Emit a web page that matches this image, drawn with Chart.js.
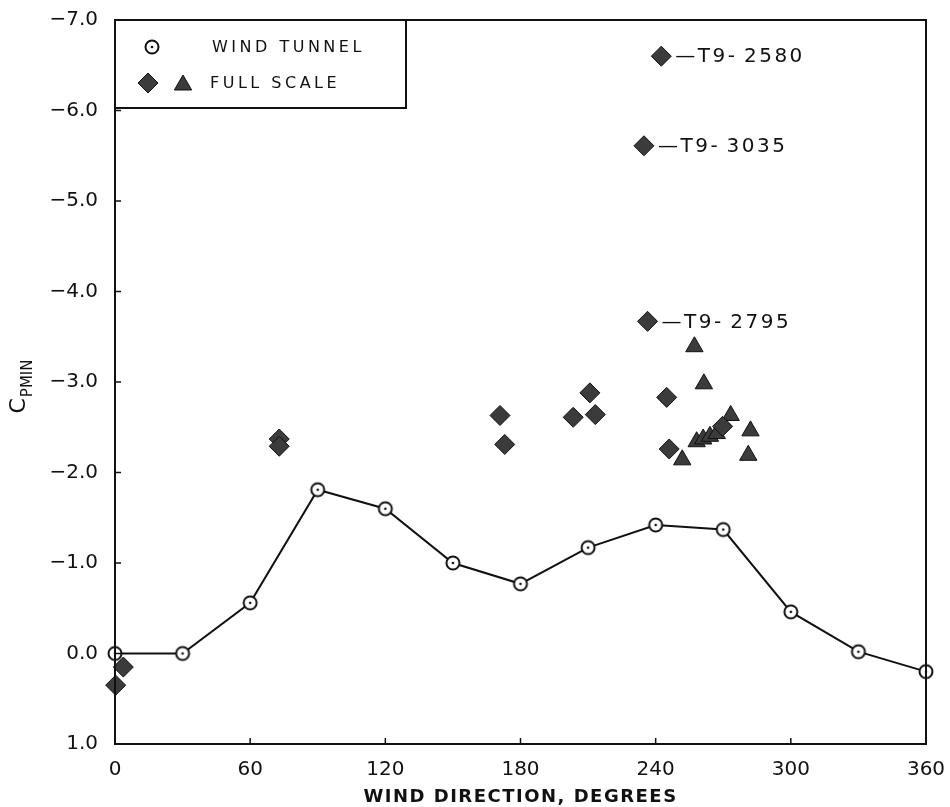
<!DOCTYPE html>
<html>
<head>
<meta charset="utf-8">
<script src="https://cdn.jsdelivr.net/npm/chart.js@4.4.1/dist/chart.umd.min.js"></script>
<style>
  html, body { margin: 0; padding: 0; background: #fff; }
</style>
</head>
<body>
<canvas id="cpChart" width="950" height="807"></canvas>
<script>
// wind tunnel: one reading every 30 degrees
const tunnelDir = [0, 30, 60, 90, 120, 150, 180, 210, 240, 270, 300, 330, 360];
const tunnelCp = [0.0, 0.0, -0.56, -1.81, -1.6, -1.0, -0.77, -1.17, -1.42, -1.37, -0.46, -0.02, 0.2];

// full scale runs, diamonds
const diamondDir = [0.3, 3.7, 72.9, 72.9, 170.9, 173, 203.4, 210.8, 213.2, 234.8, 236.4, 242.5, 244.9, 246, 269.7];
const diamondCp = [0.35, 0.15, -2.37, -2.29, -2.63, -2.31, -2.61, -2.88, -2.64, -5.61, -3.67, -6.6, -2.83, -2.26, -2.51];

// full scale runs, triangles
const triangleDir = [251.8, 257.2, 258.2, 261.1, 261.4, 264.1, 267.1, 273.3, 281.1, 282.1];
const triangleCp = [-2.14, -3.39, -2.34, -2.37, -2.98, -2.4, -2.43, -2.63, -2.19, -2.46];

// named runs, pointing at entries of the diamond arrays
const runNames = ['T9-2580', 'T9-3035', 'T9-2795'];
const runIndex = [11, 9, 10];

const xTicks = [0, 60, 120, 180, 240, 300, 360];
const yTicks = [-7, -6, -5, -4, -3, -2, -1, 0, 1];

const FONT = '"DejaVu Sans", sans-serif';
const INK = '#111';
const FILL = '#3b3b3b';

function toPoints(xs, ys) {
  return xs.map((x, i) => ({ x: x, y: ys[i] }));
}

// open circle with a dot in the middle
function makeRing() {
  const c = document.createElement('canvas');
  c.width = 18;
  c.height = 18;
  const g = c.getContext('2d');
  g.beginPath();
  g.arc(9, 9, 6.5, 0, Math.PI * 2);
  g.fillStyle = '#fff';
  g.fill();
  g.lineWidth = 2;
  g.strokeStyle = INK;
  g.stroke();
  g.beginPath();
  g.arc(9, 9, 1.3, 0, Math.PI * 2);
  g.fillStyle = INK;
  g.fill();
  return c;
}
const ring = makeRing();

function fmtCp(v) {
  return v < 0 ? '\u2212' + Math.abs(v).toFixed(1) : v.toFixed(1);
}

function diamond(ctx, x, y, r) {
  ctx.beginPath();
  ctx.moveTo(x, y - r);
  ctx.lineTo(x + r, y);
  ctx.lineTo(x, y + r);
  ctx.lineTo(x - r, y);
  ctx.closePath();
  ctx.fillStyle = FILL;
  ctx.fill();
  ctx.lineWidth = 1;
  ctx.strokeStyle = INK;
  ctx.stroke();
}

function triangle(ctx, x, y, r) {
  ctx.beginPath();
  ctx.moveTo(x, y - r);
  ctx.lineTo(x + r * 0.866, y + r / 2);
  ctx.lineTo(x - r * 0.866, y + r / 2);
  ctx.closePath();
  ctx.fillStyle = FILL;
  ctx.fill();
  ctx.lineWidth = 1;
  ctx.strokeStyle = INK;
  ctx.stroke();
}

const framePlugin = {
  id: 'frame',
  afterDraw(chart) {
    const ctx = chart.ctx;
    const a = chart.chartArea;
    const xs = chart.scales.x;
    const ys = chart.scales.y;
    ctx.save();

    // plot frame
    ctx.strokeStyle = INK;
    ctx.lineWidth = 2;
    ctx.strokeRect(a.left, a.top, a.right - a.left, a.bottom - a.top);

    // tick marks pointing inwards
    ctx.lineWidth = 1.5;
    ctx.beginPath();
    xTicks.forEach((t) => {
      const px = xs.getPixelForValue(t);
      ctx.moveTo(px, a.bottom);
      ctx.lineTo(px, a.bottom - 6);
    });
    yTicks.forEach((t) => {
      const py = ys.getPixelForValue(t);
      ctx.moveTo(a.left, py);
      ctx.lineTo(a.left + 6, py);
    });
    ctx.stroke();

    // legend box
    const lx = a.left, ly = a.top, lw = 291, lh = 88;
    ctx.lineWidth = 2;
    ctx.beginPath();
    ctx.moveTo(lx + lw, ly);
    ctx.lineTo(lx + lw, ly + lh);
    ctx.lineTo(lx, ly + lh);
    ctx.stroke();
    ctx.drawImage(ring, lx + 37 - 9, ly + 27 - 9);
    diamond(ctx, lx + 33, ly + 63, 10);
    triangle(ctx, lx + 68, ly + 65, 10);
    ctx.fillStyle = INK;
    ctx.font = '16px ' + FONT;
    ctx.letterSpacing = '3.5px';
    ctx.textAlign = 'left';
    ctx.textBaseline = 'middle';
    ctx.fillText('WIND TUNNEL', lx + 97, ly + 28);
    ctx.fillText('FULL SCALE', lx + 95, ly + 64);

    // run labels next to their diamonds
    const dMeta = chart.getDatasetMeta(1);
    ctx.font = '20px ' + FONT;
    ctx.letterSpacing = '2.5px';
    runIndex.forEach((idx, k) => {
      const p = dMeta.data[idx];
      ctx.fillText('\u2014T9-\u2009' + runNames[k].slice(3), p.x + 14, p.y + 1);
    });

    // x axis title
    ctx.font = 'bold 18px ' + FONT;
    ctx.letterSpacing = '1.5px';
    ctx.textAlign = 'center';
    ctx.fillText('WIND DIRECTION, DEGREES', (a.left + a.right) / 2, 797);

    // y axis title, C with subscript PMIN
    ctx.translate(21, 387);
    ctx.rotate(-Math.PI / 2);
    ctx.letterSpacing = '0px';
    ctx.textAlign = 'left';
    ctx.textBaseline = 'alphabetic';
    ctx.font = '22px ' + FONT;
    const wC = ctx.measureText('C').width;
    ctx.font = '15px ' + FONT;
    const wS = ctx.measureText('PMIN').width;
    const x0 = -(wC + wS) / 2;
    ctx.font = '22px ' + FONT;
    ctx.fillText('C', x0, 4);
    ctx.font = '15px ' + FONT;
    ctx.fillText('PMIN', x0 + wC + 1, 11);
    ctx.restore();
  }
};

const ctxMain = document.getElementById('cpChart').getContext('2d');
const cpChart = new Chart(ctxMain, {
  type: 'scatter',
  data: {
    datasets: [
      {
        label: 'WIND TUNNEL',
        data: toPoints(tunnelDir, tunnelCp),
        showLine: true,
        borderColor: INK,
        borderWidth: 2,
        pointStyle: ring,
        clip: false,
      },
      {
        label: 'FULL SCALE',
        data: toPoints(diamondDir, diamondCp),
        pointStyle: 'rectRot',
        pointRadius: 10,
        backgroundColor: FILL,
        borderColor: INK,
        borderWidth: 1,
        clip: false,
      },
      {
        label: 'FULL SCALE',
        data: toPoints(triangleDir, triangleCp),
        pointStyle: 'triangle',
        pointRadius: 10,
        backgroundColor: FILL,
        borderColor: INK,
        borderWidth: 1,
        clip: false,
      },
    ],
  },
  options: {
    responsive: false,
    animation: false,
    devicePixelRatio: 1,
    layout: { padding: { top: 20, right: 24, left: 0, bottom: 0 } },
    plugins: {
      legend: { display: false },
      tooltip: { enabled: false },
    },
    scales: {
      x: {
        type: 'linear',
        min: 0,
        max: 360,
        grid: { display: false, drawTicks: false },
        border: { display: false },
        afterBuildTicks: (scale) => {
          scale.ticks = xTicks.map((v) => ({ value: v }));
        },
        ticks: {
          autoSkip: false,
          maxRotation: 0,
          padding: 14,
          color: INK,
          font: { family: FONT, size: 20 },
        },
        afterFit: (scale) => {
          scale.height = 63;
          scale.paddingLeft = 0;
          scale.paddingRight = 0;
        },
      },
      y: {
        type: 'linear',
        reverse: true,
        min: -7,
        max: 1,
        grid: { display: false, drawTicks: false },
        border: { display: false },
        afterBuildTicks: (scale) => {
          scale.ticks = yTicks.map((v) => ({ value: v }));
        },
        ticks: {
          padding: 17,
          color: INK,
          font: { family: FONT, size: 20 },
          callback: (v) => fmtCp(v),
        },
        afterFit: (scale) => {
          scale.width = 115;
          scale.paddingTop = 0;
          scale.paddingBottom = 0;
        },
      },
    },
  },
  plugins: [framePlugin],
});
</script>
</body>
</html>
